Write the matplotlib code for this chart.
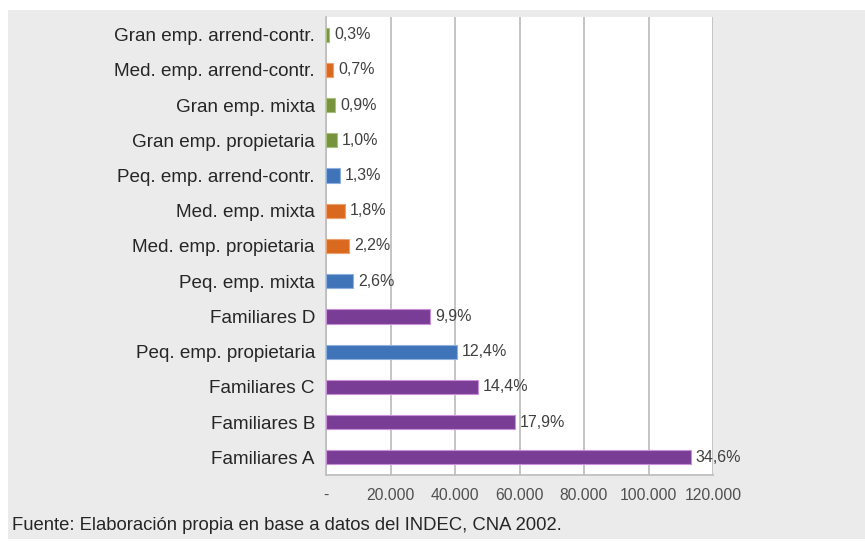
import matplotlib.pyplot as plt
from matplotlib.patches import Rectangle
from matplotlib.ticker import FuncFormatter

plt.rcParams['font.family'] = ['Liberation Sans', 'DejaVu Sans']

# categories from top to bottom as in the chart
categories = ["Gran emp. arrend-contr.", "Med. emp. arrend-contr.", "Gran emp. mixta",
              "Gran emp. propietaria", "Peq. emp. arrend-contr.", "Med. emp. mixta",
              "Med. emp. propietaria", "Peq. emp. mixta", "Familiares D",
              "Peq. emp. propietaria", "Familiares C", "Familiares B", "Familiares A"]
values = [980, 2290, 2940, 3270, 4250, 5890, 7200, 8500, 32400, 40560, 47100, 58550, 113200]
pct_labels = ["0,3%", "0,7%", "0,9%", "1,0%", "1,3%", "1,8%", "2,2%", "2,6%",
              "9,9%", "12,4%", "14,4%", "17,9%", "34,6%"]
groups = ["gran", "med", "gran", "gran", "peq", "med", "med", "peq",
          "fam", "peq", "fam", "fam", "fam"]

colors = {"gran": "#77933c", "med": "#d9691f", "peq": "#3f74b8", "fam": "#7a3d96"}
edges = {"gran": "#a8c080", "med": "#eea070", "peq": "#8fb0dd", "fam": "#c98fd8"}

fig = plt.figure(figsize=(8.65, 5.43), dpi=100)
fig.patches.append(Rectangle((8 / 865, 1 - 539 / 543), 1, 529 / 543,
                             transform=fig.transFigure, facecolor="#ebebeb",
                             edgecolor="none", zorder=-10))

ax = fig.add_axes([326 / 865, 1 - 475 / 543, 387 / 865, 458 / 543])
ax.set_facecolor("white")

ypos = list(range(len(categories)))
ax.barh(ypos, values, height=0.4,
        color=[colors[g] for g in groups],
        edgecolor=[edges[g] for g in groups], linewidth=0.8, zorder=3)

for y, v, lab in zip(ypos, values, pct_labels):
    ax.text(v + 1500, y, lab, va="center", ha="left", fontsize=11.5,
            color="#404040", zorder=4)

ax.set_ylim(12.5, -0.5)
ax.set_xlim(0, 120000)
ax.set_yticks(ypos)
ax.set_yticklabels(categories, fontsize=13.6, color="#262626")
ax.set_xticks(range(0, 120001, 20000))
ax.xaxis.set_major_formatter(FuncFormatter(
    lambda x, p: "-" if x == 0 else f"{int(x):,}".replace(",", ".")))
ax.tick_params(axis="x", labelsize=11.3, labelcolor="#505050", length=0, pad=9)
ax.tick_params(axis="y", length=0, pad=8)

ax.grid(axis="x", color="#bfbfbf", linewidth=1.3, zorder=1)
ax.set_axisbelow(True)
for s in ["top", "right"]:
    ax.spines[s].set_visible(False)
ax.spines["left"].set_color("#bfbfbf")
ax.spines["left"].set_linewidth(1.3)
ax.spines["bottom"].set_color("#bfbfbf")
ax.spines["bottom"].set_linewidth(1.3)

fig.text(12 / 865, 1 - 525 / 543, "Fuente: Elaboración propia en base a datos del INDEC, CNA 2002.",
         fontsize=13.3, color="#262626", va="center", ha="left")

fig.savefig("out.png", dpi=100, facecolor="white")
